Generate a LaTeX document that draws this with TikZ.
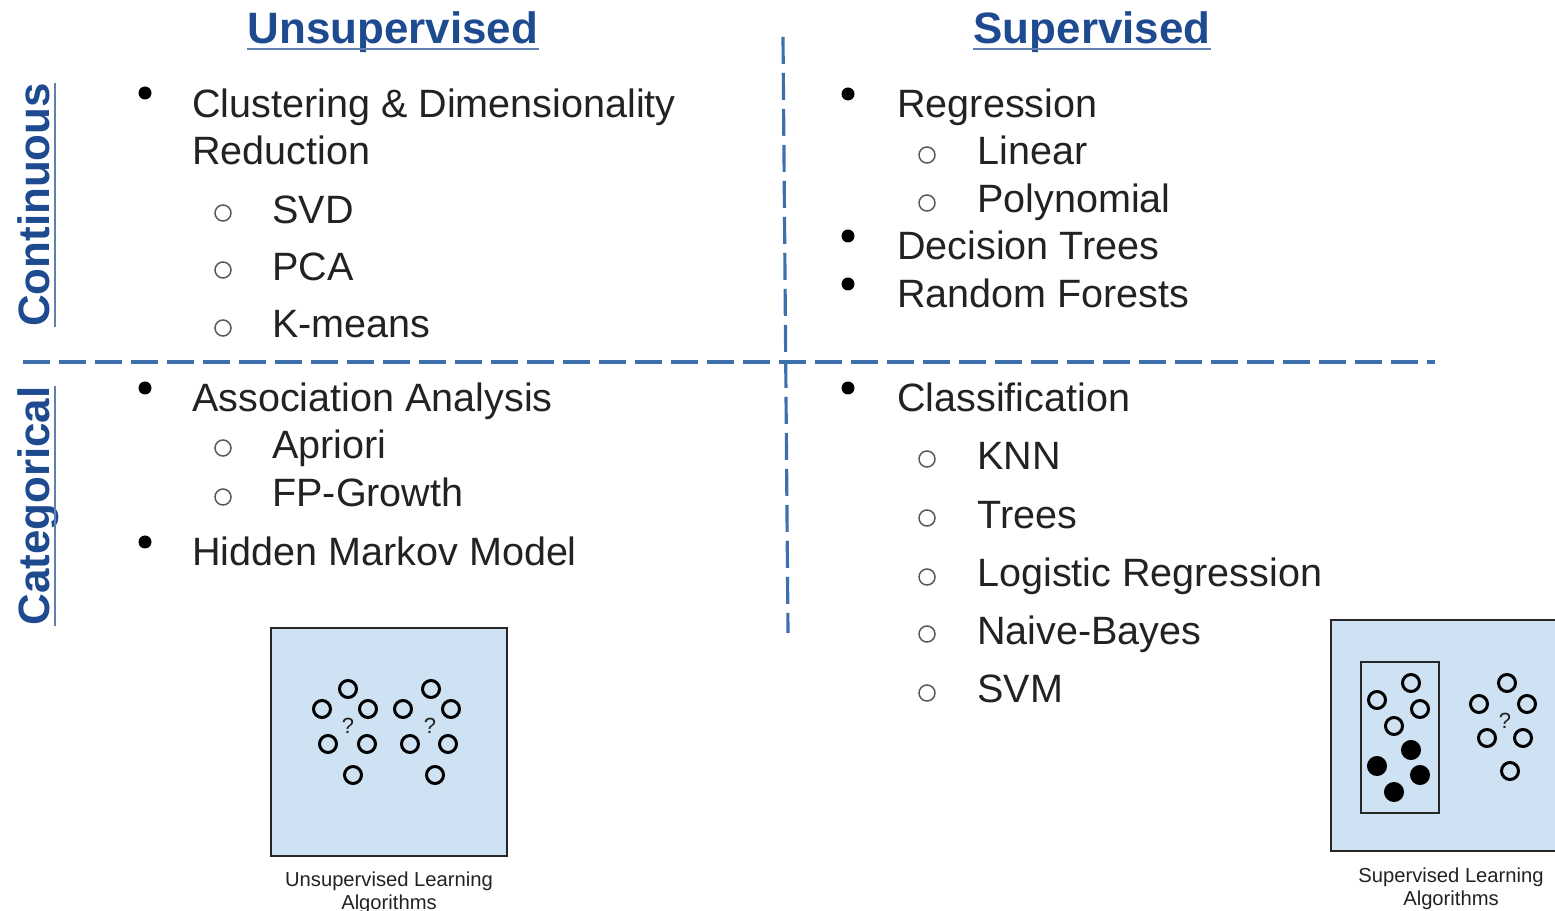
\documentclass[tikz,border=0pt]{standalone}
\usepackage{fontspec}
\setmainfont{Liberation Sans}
\usepackage{xcolor}
\usetikzlibrary{positioning}

\definecolor{hdrblue}{HTML}{1E4A90}
\definecolor{dashblue}{HTML}{3D6FAD}
\definecolor{boxfill}{HTML}{CFE2F3}
\definecolor{ink}{HTML}{222222}

\begin{document}
\begin{tikzpicture}[
    x=0.02cm,
    y=-0.02cm,
    header/.style={
        font=\fontsize{25}{30}\selectfont\bfseries,
        text=hdrblue,
        inner sep=0pt
    },
    uline/.style={
        hdrblue!70!white,
        line width=1.3pt
    },
    item/.style={
        font=\fontsize{22.5}{27}\selectfont,
        text=ink,
        anchor=base west,
        inner sep=0pt,
        yshift=-0.04cm
    },
    divider/.style={
        dashblue,
        line width=1.8pt,
        dash pattern=on 0.54cm off 0.18cm
    },
    dot/.style={fill=black},
    hollow/.style={
        draw=black!65,
        line width=0.85pt
    },
    panel/.style={
        draw=black!85,
        line width=1.2pt,
        fill=boxfill
    },
    ring/.style={
        draw=black,
        line width=1.7pt
    },
    caption/.style={
        font=\fontsize{11.5}{12.8}\selectfont,
        align=center,
        text=ink,
        inner sep=0pt
    }
]

\useasboundingbox (0,0) rectangle (1555,911);

% ==================================================
% Headings and axis labels
% ==================================================

\node[header, anchor=base] (unsup) at (393,44) {Unsupervised};
\node[header, anchor=base] (sup) at (1092,44) {Supervised};

\node[header, anchor=base, rotate=90] (cont) at (50,205) {Continuous};
\node[header, anchor=base, rotate=90] (categ) at (50,506) {Categorical};

\draw[uline] ([yshift=-0.1cm]unsup.base west) -- ([yshift=-0.1cm]unsup.base east);
\draw[uline] ([yshift=-0.1cm]sup.base west) -- ([yshift=-0.1cm]sup.base east);
\draw[uline] ([xshift=0.1cm]cont.base west) -- ([xshift=0.1cm]cont.base east);
\draw[uline] ([xshift=0.1cm]categ.base west) -- ([xshift=0.1cm]categ.base east);


% ==================================================
% Quadrant dividers
% ==================================================

\coordinate (vtop) at (783,37);
\coordinate (vbot) at (788,633);
\coordinate (hleft) at (23,362);
\coordinate (hright) at (1435,362);

\draw[divider] (vtop) -- (vbot);
\draw[divider] (hleft) -- (hright);


% ==================================================
% Unsupervised / continuous
% ==================================================

\fill[dot] (145,93) circle[radius=6.5];
\node[item] (clust) at (192,116) {Clustering \& Dimensionality};
\node[item] (reduc) at (192,163) {Reduction};

\draw[hollow] (223,213) circle[radius=8];
\node[item] (svd) at (272,222) {SVD};
\draw[hollow] (223,270) circle[radius=8];
\node[item] (pca) at (272,279) {PCA};
\draw[hollow] (223,328) circle[radius=8];
\node[item] (kmeans) at (272,336) {K-means};


% ==================================================
% Supervised / continuous
% ==================================================

\fill[dot] (848,94) circle[radius=6.5];
\node[item] (regr) at (897,116) {Regression};
\draw[hollow] (927,155) circle[radius=8];
\node[item] (linear) at (977,163) {Linear};
\draw[hollow] (927,203) circle[radius=8];
\node[item] (poly) at (977,211) {Polynomial};

\fill[dot] (848,236) circle[radius=6.5];
\node[item] (dtree) at (897,258) {Decision Trees};
\fill[dot] (848,284) circle[radius=6.5];
\node[item] (rforest) at (897,306) {Random Forests};


% ==================================================
% Unsupervised / categorical
% ==================================================

\fill[dot] (145,388) circle[radius=6.5];
\node[item] (assoc) at (192,410) {Association Analysis};
\draw[hollow] (223,448) circle[radius=8];
\node[item] (apriori) at (272,457) {Apriori};
\draw[hollow] (223,497) circle[radius=8];
\node[item] (fpg) at (272,505) {FP-Growth};

\fill[dot] (145,542) circle[radius=6.5];
\node[item] (hmm) at (192,564) {Hidden Markov Model};


% ==================================================
% Supervised / categorical
% ==================================================

\fill[dot] (848,388) circle[radius=6.5];
\node[item] (classif) at (897,410) {Classification};
\draw[hollow] (927,459) circle[radius=8];
\node[item] (knn) at (977,468) {KNN};
\draw[hollow] (927,518) circle[radius=8];
\node[item] (trees) at (977,527) {Trees};
\draw[hollow] (927,577) circle[radius=8];
\node[item] (logreg) at (977,585) {Logistic Regression};
\draw[hollow] (927,634) circle[radius=8];
\node[item] (nbayes) at (977,643) {Naive-Bayes};
\draw[hollow] (927,693) circle[radius=8];
\node[item] (svm) at (977,701) {SVM};


% ==================================================
% Unsupervised sketch
% ==================================================

\draw[panel] (271,628) rectangle (507,856);

% two unlabelled groups
\draw[ring] (348,689) circle[radius=8.5] (322,709) circle[radius=8.5]
    (368,709) circle[radius=8.5] (328,744) circle[radius=8.5]
    (367,744) circle[radius=8.5] (353,775) circle[radius=8.5];
\draw[ring] (431,689) circle[radius=8.5] (403,709) circle[radius=8.5]
    (451,709) circle[radius=8.5] (410,744) circle[radius=8.5]
    (448,744) circle[radius=8.5] (435,775) circle[radius=8.5];
\node[caption, font=\fontsize{12.5}{14}\selectfont] (uq1) at (348,726) {?};
\node[caption, font=\fontsize{12.5}{14}\selectfont] (uq2) at (430,726) {?};

\node[caption] (ucap) at (389,893) {Unsupervised Learning\\Algorithms};


% ==================================================
% Supervised sketch
% ==================================================

\draw[panel] (1331,620) rectangle (1575,851);
\draw[panel] (1361,662) rectangle (1439,813);

% labelled training points
\draw[ring] (1411,683) circle[radius=8.5] (1377,700) circle[radius=8.5]
    (1420,709) circle[radius=8.5] (1394,726) circle[radius=8.5];
\fill[ring, fill=black] (1411,750) circle[radius=8.5] (1377,766) circle[radius=8.5]
    (1420,775) circle[radius=8.5] (1394,792) circle[radius=8.5];

% new points to classify
\draw[ring] (1507,683) circle[radius=8.5] (1479,704) circle[radius=8.5]
    (1527,704) circle[radius=8.5] (1487,738) circle[radius=8.5]
    (1523,738) circle[radius=8.5] (1510,771) circle[radius=8.5];
\node[caption, font=\fontsize{12.5}{14}\selectfont] (sq) at (1505,721) {?};

\node[caption] (scap) at (1451,889) {Supervised Learning\\Algorithms};

\end{tikzpicture}
\end{document}
